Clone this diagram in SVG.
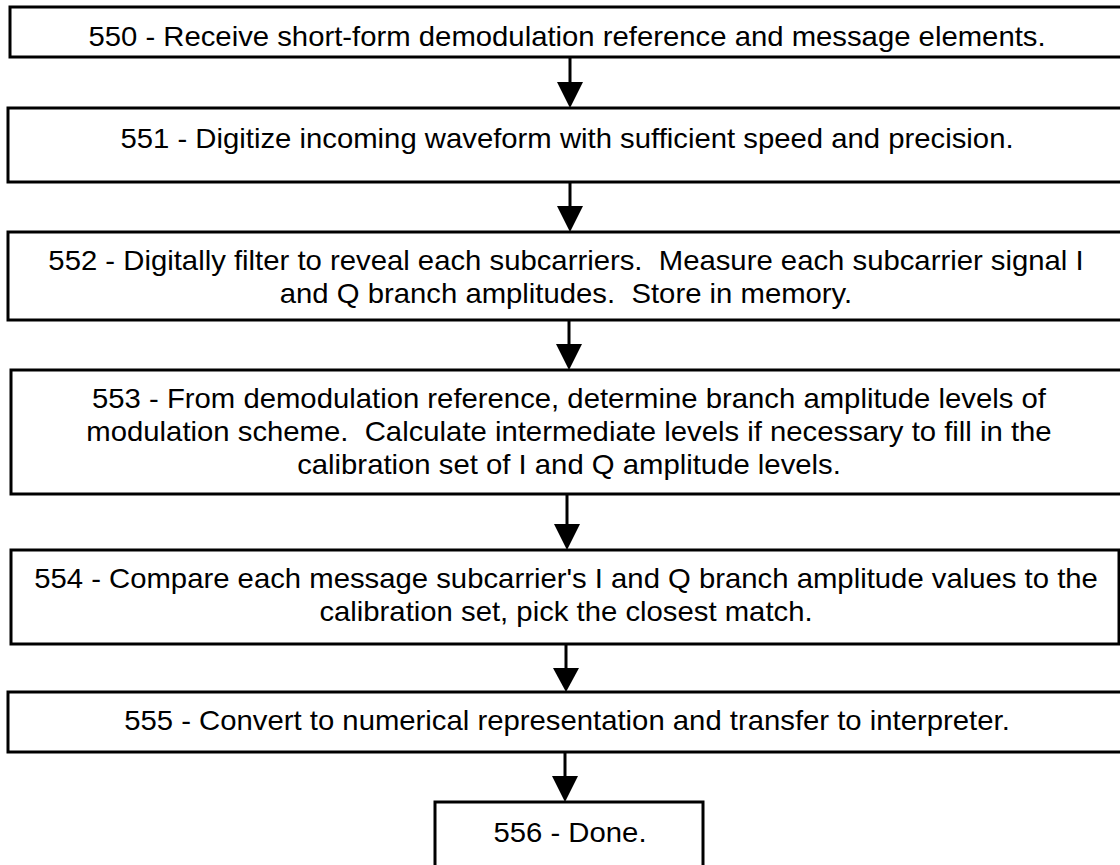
<svg xmlns="http://www.w3.org/2000/svg" width="1120" height="865" viewBox="0 0 1120 865">
<style>
.box{fill:#fff;stroke:#000;stroke-width:3}
.t{font-family:"Liberation Sans",Arial,sans-serif;font-size:29.3px;fill:#000;text-anchor:middle}
.c line{stroke:#000;stroke-width:3}
.c polygon{fill:#000;stroke:none}
</style>
<rect width="1120" height="865" fill="#fff"/>
<g id="n550"><rect class="box" x="10" y="7" width="1125" height="50"/>
<text class="t" transform="translate(567,46) scale(1,0.94)">550 - Receive short-form demodulation reference and message elements.</text></g>
<g id="n551"><rect class="box" x="8" y="108" width="1125" height="74"/>
<text class="t" transform="translate(567,148) scale(1,0.94)">551 - Digitize incoming waveform with sufficient speed and precision.</text></g>
<g id="n552"><rect class="box" x="8" y="232" width="1125" height="88"/>
<text class="t" xml:space="preserve" transform="translate(566,270) scale(1,0.94)">552 - Digitally filter to reveal each subcarriers.  Measure each subcarrier signal I</text>
<text class="t" xml:space="preserve" transform="translate(566,303) scale(1,0.94)">and Q branch amplitudes.  Store in memory.</text></g>
<g id="n553"><rect class="box" x="11" y="370" width="1125" height="124"/>
<text class="t" xml:space="preserve" transform="translate(569,408) scale(1,0.94)">553 - From demodulation reference, determine branch amplitude levels of</text>
<text class="t" xml:space="preserve" transform="translate(569,441) scale(1,0.94)">modulation scheme.  Calculate intermediate levels if necessary to fill in the</text>
<text class="t" xml:space="preserve" transform="translate(569,474) scale(1,0.94)">calibration set of I and Q amplitude levels.</text></g>
<g id="n554"><rect class="box" x="11" y="550" width="1108" height="94"/>
<text class="t" transform="translate(566,588) scale(1,0.94)">554 - Compare each message subcarrier's I and Q branch amplitude values to the</text>
<text class="t" transform="translate(566,621) scale(1,0.94)">calibration set, pick the closest match.</text></g>
<g id="n555"><rect class="box" x="8" y="692" width="1125" height="60"/>
<text class="t" transform="translate(567,730) scale(1,0.94)">555 - Convert to numerical representation and transfer to interpreter.</text></g>
<g id="n556"><rect class="box" x="435" y="802" width="268" height="80"/>
<text class="t" transform="translate(570,842) scale(1,0.94)">556 - Done.</text></g>
<g id="connectors" class="c">
<line x1="570" y1="57" x2="570" y2="84"/><polygon points="557,82 583,82 570,108"/>
<line x1="570" y1="182" x2="570" y2="208"/><polygon points="557,206 583,206 570,232"/>
<line x1="569" y1="320" x2="569" y2="346"/><polygon points="556,344 582,344 569,370"/>
<line x1="567" y1="494" x2="567" y2="526"/><polygon points="554,524 580,524 567,550"/>
<line x1="566" y1="644" x2="566" y2="670"/><polygon points="553,668 579,668 566,692"/>
<line x1="565" y1="752" x2="565" y2="778"/><polygon points="552,776 578,776 565,802"/>
</g>
</svg>
